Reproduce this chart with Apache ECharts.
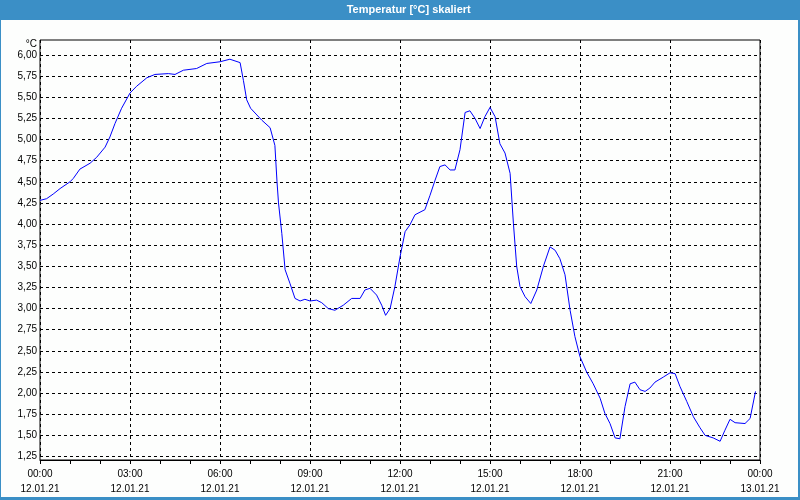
<!DOCTYPE html>
<html><head><meta charset="utf-8">
<script src="https://cdn.jsdelivr.net/npm/echarts@6/dist/echarts.min.js"></script>
<style>html,body{margin:0;padding:0;background:#fdfefd}#c{width:800px;height:500px}</style>
</head><body><div id="c"></div>
<script>
// time in hours since 12.01.21 00:00
var hours = [0,0.22,0.44,0.67,1.0,1.11,1.33,1.67,1.89,2.17,2.33,2.5,2.72,3.0,3.22,3.56,3.83,4.28,4.5,4.78,5.22,5.56,6.0,6.33,6.67,6.78,6.89,7.02,7.39,7.67,7.83,7.9,7.95,8.06,8.17,8.33,8.5,8.67,8.83,9.0,9.22,9.39,9.61,9.83,10.11,10.39,10.67,10.83,11.0,11.22,11.39,11.52,11.67,11.83,12.0,12.17,12.33,12.5,12.83,13.0,13.17,13.33,13.5,13.67,13.83,14.0,14.17,14.33,14.5,14.67,14.83,15.0,15.17,15.33,15.5,15.67,15.78,15.89,16.0,16.17,16.36,16.56,16.78,17.0,17.17,17.33,17.5,17.67,17.83,18.0,18.22,18.44,18.67,18.83,19.0,19.17,19.33,19.5,19.67,19.83,20.0,20.17,20.33,20.5,20.78,21.0,21.17,21.33,21.56,21.78,22.0,22.17,22.44,22.67,22.83,23.0,23.17,23.5,23.67,23.85];
var temps = [4.28,4.30,4.355,4.42,4.50,4.54,4.65,4.72,4.79,4.91,5.03,5.19,5.37,5.55,5.63,5.73,5.77,5.78,5.77,5.82,5.84,5.90,5.92,5.95,5.91,5.70,5.47,5.37,5.23,5.14,4.93,4.50,4.25,3.89,3.46,3.30,3.12,3.09,3.11,3.09,3.10,3.07,3.00,2.98,3.04,3.12,3.12,3.22,3.24,3.16,3.04,2.92,3.00,3.26,3.61,3.91,3.99,4.11,4.17,4.34,4.52,4.68,4.70,4.64,4.64,4.88,5.32,5.34,5.25,5.13,5.27,5.38,5.27,4.95,4.84,4.60,4.01,3.50,3.26,3.14,3.06,3.22,3.50,3.73,3.69,3.59,3.40,2.98,2.67,2.43,2.25,2.11,1.94,1.76,1.64,1.47,1.46,1.84,2.11,2.13,2.04,2.02,2.06,2.13,2.19,2.24,2.23,2.08,1.90,1.72,1.59,1.50,1.47,1.43,1.56,1.69,1.65,1.64,1.70,2.02];
var xTickLabels = ['00:00\n12.01.21','03:00\n12.01.21','06:00\n12.01.21','09:00\n12.01.21','12:00\n12.01.21','15:00\n12.01.21','18:00\n12.01.21','21:00\n12.01.21','00:00\n13.01.21'];
var title = 'Temperatur [°C] skaliert';
var unit = '°C';

var FONT = 'Liberation Sans';
var data = hours.map(function(h,i){return [h,temps[i]];});
var chart = echarts.init(document.getElementById('c'));
chart.setOption({
  backgroundColor:'#fdfefd',
  animation:false,
  grid:[
    {left:40,right:40,top:40,bottom:40,show:true,borderColor:'#000',borderWidth:1,backgroundColor:'transparent'},
    {left:40,right:40,top:55,bottom:43.5}
  ],
  xAxis:[
    {gridIndex:0,type:'value',min:0,max:24,interval:3,
     axisLine:{show:true,lineStyle:{color:'#000',width:1}},
     axisTick:{show:true,length:4,lineStyle:{color:'#000'}},
     minorTick:{show:true,splitNumber:3,length:4,lineStyle:{color:'#000'}},
     splitLine:{show:true,lineStyle:{color:'#000',type:[3,3],width:1}},
     axisLabel:{margin:7,lineHeight:15,fontFamily:FONT,fontSize:10,color:'#000',
       formatter:function(v){return xTickLabels[Math.round(v/3)];}}},
    {gridIndex:1,type:'value',min:0,max:24,show:false}
  ],
  yAxis:[
    {gridIndex:0,type:'value',min:1.2086,max:6.1775,show:false,splitLine:{show:false}},
    {gridIndex:1,type:'value',min:1.25,max:6.0,interval:0.25,
     axisLine:{show:false},axisTick:{show:false},
     splitLine:{show:true,lineStyle:{color:'#000',type:[3,3],width:1}},
     axisLabel:{margin:3,fontFamily:FONT,fontSize:10,color:'#000',
       formatter:function(v){return v.toFixed(2).replace('.',',');}}}
  ],
  series:[{type:'line',xAxisIndex:0,yAxisIndex:0,data:data,showSymbol:false,
    lineStyle:{color:'#0000ff',width:1},z:5}],
  graphic:[
    {type:'rect',shape:{x:0,y:0,width:800,height:20},style:{fill:'#3b8fc6'},silent:true},
    {type:'rect',shape:{x:0,y:0,width:1,height:500},style:{fill:'#3b8fc6'},silent:true},
    {type:'rect',shape:{x:798,y:0,width:2,height:500},style:{fill:'#3b8fc6'},silent:true},
    {type:'rect',shape:{x:0,y:497,width:800,height:3},style:{fill:'#3b8fc6'},silent:true},
    {type:'text',x:408.7,y:9.5,style:{text:title,fill:'#fff',font:'bold 11px '+FONT,align:'center',verticalAlign:'middle'}},
    {type:'text',x:37,y:44.5,style:{text:unit,fill:'#000',font:'10px '+FONT,align:'right',verticalAlign:'middle'}}
  ]
});
</script></body></html>
